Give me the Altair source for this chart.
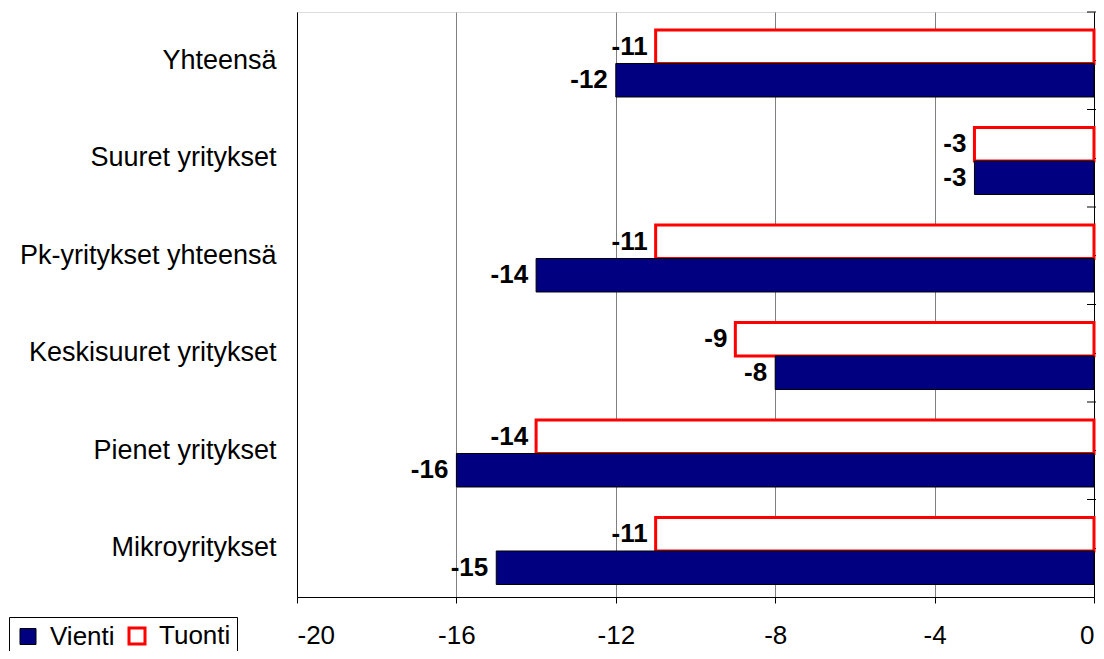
import altair as alt
import pandas as pd

categories = ["Yhteensä", "Suuret yritykset", "Pk-yritykset yhteensä",
              "Keskisuuret yritykset", "Pienet yritykset", "Mikroyritykset"]
vienti = [-12, -3, -14, -8, -16, -15]
tuonti = [-11, -3, -11, -9, -14, -11]
series = ["Vienti", "Tuonti"]
x_ticks = [-20, -16, -12, -8, -4, 0]

rows = []
for c, v, t in zip(categories, vienti, tuonti):
    rows.append({"cat": c, "series": "Tuonti", "value": t, "label": str(t)})
    rows.append({"cat": c, "series": "Vienti", "value": v, "label": str(v)})
df = pd.DataFrame(rows)
tick_df = pd.DataFrame({"cat": categories, "zero": [0] * len(categories)})

FONT = "Liberation Sans"

y_enc_left = alt.Y("cat:N", sort=categories, title=None,
                   scale=alt.Scale(paddingInner=0, paddingOuter=0),
                   axis=alt.Axis(orient="left", domain=True, domainColor="#000000",
                                 ticks=False, labelFontSize=27, labelFont=FONT,
                                 labelColor="#000000", labelPadding=21, labelLimit=400))
y_enc_right = alt.Y("cat:N", sort=categories, title=None,
                    axis=alt.Axis(orient="right", domain=True, domainColor="#000000",
                                  ticks=True, tickColor="#000000", tickSize=6,
                                  labels=False))
yoff = alt.YOffset("series:N", sort=["Tuonti", "Vienti"],
                   scale=alt.Scale(paddingInner=0, paddingOuter=0.455, align=0.59))
x_scale = alt.Scale(domain=[-20, 0], nice=False)
x_enc = alt.X("value:Q", title=None, scale=x_scale,
              axis=alt.Axis(values=x_ticks, grid=True, gridColor="#808080",
                            domainColor="#000000", tickColor="#000000", tickSize=6,
                            labelFontSize=26, labelFont=FONT, labelColor="#000000",
                            labelPadding=19, labelExpr="toString(datum.value)"))

bars = alt.Chart(df).mark_bar().encode(
    x=x_enc,
    y=y_enc_left,
    yOffset=yoff,
    fill=alt.Fill("series:N", title=None,
                  scale=alt.Scale(domain=series, range=["#000080", "#ffffff"]),
                  legend=alt.Legend(orient="none", legendX=-288, legendY=605,
                                    direction="horizontal", columns=2,
                                    symbolType="square", symbolSize=256,
                                    symbolStrokeWidth=2.5,
                                    labelFontSize=26, labelFont=FONT,
                                    labelColor="#000000", labelOffset=9,
                                    columnPadding=8, padding=6,
                                    strokeColor="#000000", fillColor="#ffffff")),
    stroke=alt.Stroke("series:N", title=None,
                      scale=alt.Scale(domain=series, range=["#000000", "#ff0000"])),
    strokeWidth=alt.StrokeWidth("series:N",
                                scale=alt.Scale(domain=series, range=[1, 3]),
                                legend=None),
)

labels = alt.Chart(df).mark_text(
    align="right", baseline="middle", dx=-8, fontSize=26, fontWeight="bold",
    font=FONT, color="#000000"
).encode(
    x=alt.X("value:Q", scale=x_scale),
    y=y_enc_right,
    yOffset=yoff,
    text=alt.Text("label:N"),
)

inner_ticks = alt.Chart(tick_df).mark_tick(
    orient="horizontal", size=14, thickness=1, color="#000000", opacity=1
).encode(
    x=alt.X("zero:Q", scale=x_scale),
    y=alt.Y("cat:N", sort=categories, bandPosition=0, axis=None),
)

chart = alt.layer(bars, labels, inner_ticks).resolve_axis(y="independent").properties(
    width=797, height=585,
    autosize=alt.AutoSizeParams(type="none"),
    padding={"left": 289, "top": 4, "right": 2, "bottom": 54},
).configure_view(stroke="#808080", strokeWidth=1).configure(background="#ffffff")

chart.save("out.html", embed_options={"renderer": "svg", "actions": False})
